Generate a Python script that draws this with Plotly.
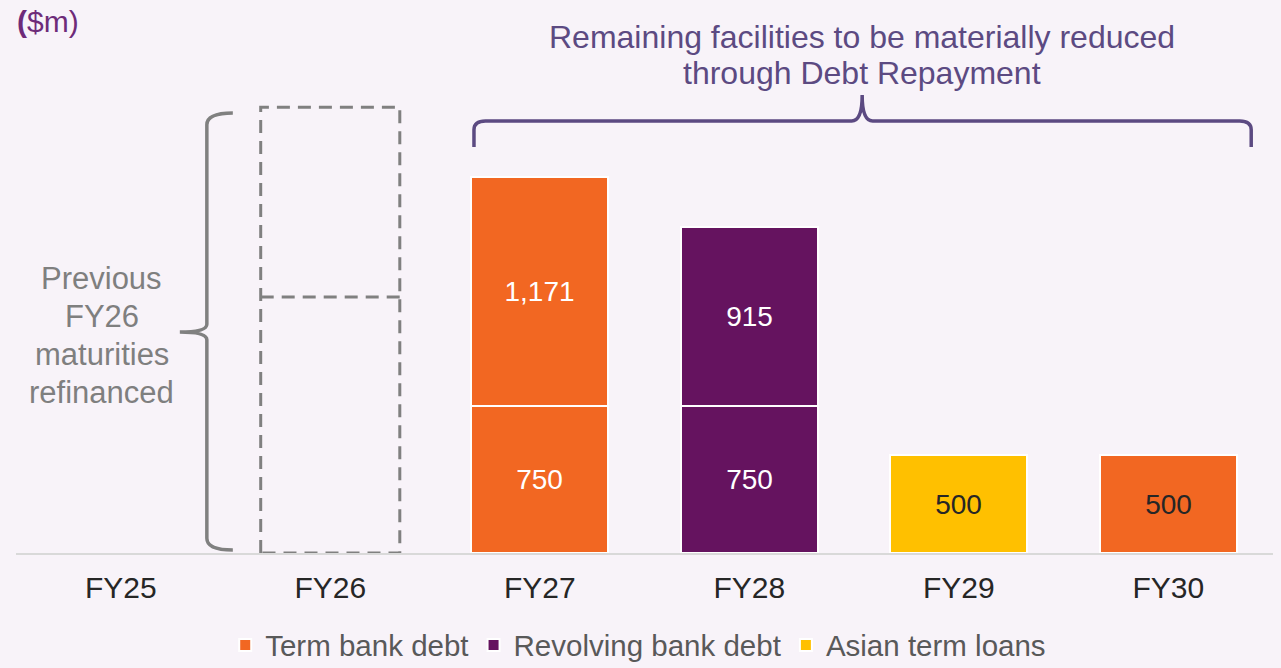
import plotly.graph_objects as go

# ---------------- data ----------------
categories = ["FY25", "FY26", "FY27", "FY28", "FY29", "FY30"]
term_base = [None, None, 750, None, None, 500]
term_top = [None, None, 1171, None, None, None]
revolving_base = [None, None, None, 750, None, None]
revolving_top = [None, None, None, 915, None, None]
asian_loans = [None, None, None, None, 500, None]
prev_fy26 = [1306, 969]          # previous FY26 maturities (dashed outline, refinanced)

ORANGE = "#f26722"
PURPLE = "#65135f"
YELLOW = "#ffc000"
BG = "#f8f3f9"
GREY = "#7f7f7f"
BRACKET = "#5c4a82"
FONT = "Liberation Sans, Arial, sans-serif"

xs = list(range(len(categories)))
BAR_W = 0.655
Y_MAX = 2720
PX = 533 / Y_MAX        # pixels per $m inside the plot area (for placing the text notes)
BASE = 553              # pixel row of the baseline


def fmt(v):
    return "" if v is None else f"{v:,}"


def bar(name, vals, color, txtcol, show, group):
    return go.Bar(
        x=xs, y=vals, name=name, marker=dict(color=color, line=dict(color="white", width=2)),
        width=BAR_W, text=[fmt(v) for v in vals], textposition="inside",
        insidetextanchor="middle", textangle=0, constraintext="none",
        textfont=dict(size=28, color=txtcol, family=FONT),
        showlegend=show, legendgroup=group, hoverinfo="skip",
    )


fig = go.Figure()
fig.add_trace(bar("Term bank debt", term_base, ORANGE, ["white", "white", "white", "white", "white", "#262626"], True, "term"))
fig.add_trace(bar("Revolving bank debt", revolving_base, PURPLE, "white", True, "rev"))
fig.add_trace(bar("Asian term loans", asian_loans, YELLOW, "#262626", True, "asian"))
fig.add_trace(bar("Term bank debt", term_top, ORANGE, "white", False, "term"))
fig.add_trace(bar("Revolving bank debt", revolving_top, PURPLE, "white", False, "rev"))

# dashed outline of previous FY26 maturities
i26 = categories.index("FY26")
hw = 0.332
y1 = prev_fy26[0]
y2 = prev_fy26[0] + prev_fy26[1]
bx = [i26 - hw, i26 - hw, i26 + hw, i26 + hw, i26 - hw, None, i26 - hw, i26 + hw]
by = [0, y2, y2, 0, 0, None, y1, y1]
fig.add_trace(go.Scatter(x=bx, y=by, mode="lines", showlegend=False, hoverinfo="skip",
                         line=dict(color="#808080", width=3, dash="13px,8px")))


def py(px):
    return (BASE - px) / PX


# left curly brace (spans the previous FY26 bar)
bt, bb = py(113), py(550)
bm = py(332)
xa, xv, xt = 0.535, 0.411, 0.282
brace = (f"M{xa},{bt} Q{xv},{bt} {xv},{bt-60} L{xv},{bm+40} Q{xv},{bm} {xt},{bm} "
         f"Q{xv},{bm} {xv},{bm-40} L{xv},{bb+60} Q{xv},{bb} {xa},{bb}")
fig.add_shape(type="path", path=brace, xref="x", yref="y", line=dict(color="#808080", width=3.5))

# top bracket over FY27-FY30
hy, ey, pk = py(121), py(147), py(95)
xl, xr, xp = 1.686, 5.396, 3.539
bracket = (f"M{xl},{ey} L{xl},{hy-45} Q{xl},{hy} {xl+0.055},{hy} L{xp-0.05},{hy} "
           f"Q{xp},{hy} {xp},{pk} Q{xp},{hy} {xp+0.05},{hy} L{xr-0.055},{hy} "
           f"Q{xr},{hy} {xr},{hy-45} L{xr},{ey}")
fig.add_shape(type="path", path=bracket, xref="x", yref="y", line=dict(color=BRACKET, width=3.5))

for k, line in enumerate(["Remaining facilities to be materially reduced", "through Debt Repayment"]):
    fig.add_annotation(x=3.54, y=py(37 + 36 * k), xref="x", yref="y", showarrow=False,
                       text=line, font=dict(size=32, color=BRACKET, family=FONT))

for k, line in enumerate(["Previous", "FY26", "maturities", "refinanced"]):
    fig.add_annotation(x=-0.091, y=py(278 + 38 * k), xref="x", yref="y", showarrow=False,
                       text=line, font=dict(size=31, color=GREY, family=FONT))

fig.add_annotation(x=-0.001, y=(553 - 22) / 533, xref="paper", yref="paper", xanchor="left", yanchor="middle",
                   showarrow=False, text="<b>(</b>$m)", font=dict(size=30, color="#6e2b79", family=FONT))

fig.update_layout(
    width=1281, height=668, barmode="stack", bargap=0,
    paper_bgcolor=BG, plot_bgcolor=BG,
    margin=dict(l=16, r=8, t=20, b=115, autoexpand=False),
    font=dict(family=FONT),
    showlegend=True,
    legend=dict(orientation="h", x=0.495, xanchor="center", y=-0.173, yanchor="middle",
                font=dict(size=29.5, color="#595959", family=FONT), bgcolor="rgba(0,0,0,0)",
                traceorder="normal"),
    xaxis=dict(range=[-0.5, 5.5], tickmode="array", tickvals=xs, ticktext=categories,
               showgrid=False, zeroline=False, showline=True, linecolor="#d9d9d9", linewidth=1.5,
               ticks="", ticklabelstandoff=7, automargin=False,
               tickfont=dict(size=30, color="#262626", family=FONT), fixedrange=True),
    yaxis=dict(range=[0, Y_MAX], visible=False, showgrid=False, zeroline=False, fixedrange=True,
               automargin=False),
)

fig.write_html("out.html", config={"displayModeBar": False}, post_script=[
    "document.body.style.margin='0';document.body.style.padding='0';"
    "document.body.style.background='" + BG + "';document.body.style.overflow='hidden';"
])
